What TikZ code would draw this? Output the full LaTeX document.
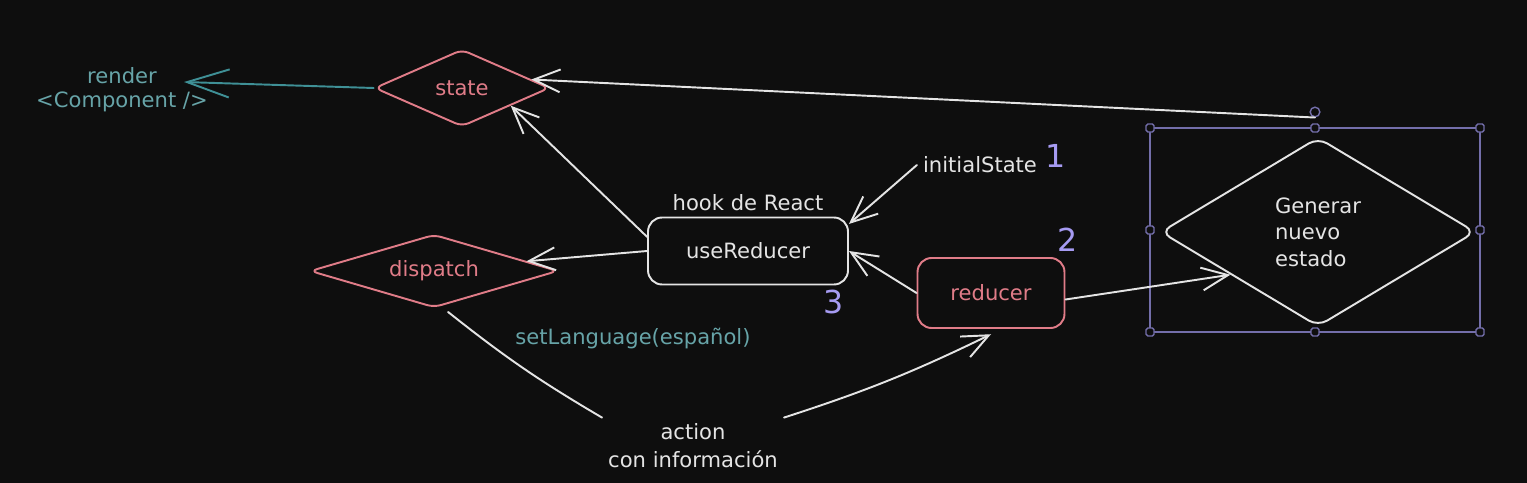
\documentclass[tikz,border=0pt]{standalone}
\usepackage{fontspec}
\setmainfont{DejaVu Sans}
\usetikzlibrary{shapes.geometric}
\usetikzlibrary{arrows.meta}
\usetikzlibrary{positioning}
\definecolor{mybg}{HTML}{0E0E0E}
\definecolor{mywhite}{HTML}{E4E4E4}
\definecolor{mypink}{HTML}{E07C88}
\definecolor{myteal}{HTML}{67A4A8}
\definecolor{mydarkteal}{HTML}{3F9096}
\definecolor{mypurple}{HTML}{A69BF2}
\definecolor{mysel}{HTML}{736EAA}
\tikzset{
  sk/.style={line width=1.1pt, line cap=round, line join=round},
  barb/.style={sk, -{Straight Barb[length=15pt,width=13pt]}},
  pinkdiamond/.style={sk, draw=mypink, text=mypink, diamond, inner sep=2pt, rounded corners=4pt},
  numlabel/.style={text=mypurple, font=\fontsize{18}{20}\selectfont}
}

\begin{document}
\begin{tikzpicture}[x=0.02cm, y=-0.02cm, font=\fontsize{12}{15}\selectfont]

    \fill[mybg] (0,0) rectangle (1527,483);
    \useasboundingbox (0,0) rectangle (1527,483);

    % diamonds on the left
    \node[pinkdiamond, aspect=2.27, minimum width=3.5cm, minimum height=1.54cm] (state) at (462,88) {state};
    \node[pinkdiamond, aspect=3.4, minimum width=4.96cm, minimum height=1.46cm] (disp) at (434,271) {dispatch};
    \node[text=myteal, align=center, font=\fontsize{12}{13.5}\selectfont] (render) at (122,90) {render\\<Component />};
    \coordinate (rtip) at (184,82);

    % hook and reducer
    \node[sk, draw=mywhite, text=mywhite, rounded corners=8pt, minimum width=4cm, minimum height=1.34cm] (ur) at (748,251) {useReducer};
    \node[text=mywhite, above=0pt of ur] (hook) {hook de React};
    \node[sk, draw=mypink, text=mypink, rounded corners=8pt, minimum width=2.94cm, minimum height=1.4cm] (red) at (991,293) {reducer};
    \node[text=mywhite] (init) at (980,165) {initialState};
    \node[numlabel] (n1) at (1056,156) {1};
    \node[numlabel] (n2) at (1068,240) {2};
    \node[numlabel] (n3) at (834,302) {3};

    % selected diamond
    \draw[line width=0.8pt, mysel] (1150,128) rectangle (1480,332);
    \node[sk, draw=mywhite, text=mywhite, diamond, aspect=1.67, rounded corners=6pt, align=left, minimum width=6.3cm, minimum height=3.78cm] (gen) at (1318,232) {Generar\\ nuevo\\ estado};
    \foreach \p in {(1150,128),(1315,128),(1480,128),(1150,230),(1480,230),(1150,332),(1315,332),(1480,332)}
        \draw[line width=0.8pt, mysel, fill=mybg, rounded corners=1pt] \p ++(-4,-4) rectangle ++(8,8);
    \node[circle, draw=mysel, line width=0.8pt, fill=mybg, inner sep=0pt, minimum size=5.5pt] (rot) at (1315,112) {};

    % action
    \node[text=mywhite, align=center, font=\fontsize{12}{16}\selectfont] (act) at (693,446) {action\\con información};
    \node[text=myteal] (setl) at (633,338) {setLanguage(español)};

    % connectors
    \draw[barb, mydarkteal, -{Straight Barb[length=24pt,width=16pt]}] (state.west) -- (rtip);
    \draw[barb, mywhite] (rot.south) -- (state.7);
    \draw[barb, mywhite] (ur.172) -- (state.-20);
    \draw[barb, mywhite] (ur.west) -- (disp.6);
    \draw[barb, mywhite] (init.west) -- (ur.15);
    \draw[barb, mywhite] (red.west) -- (ur.east);
    \draw[barb, mywhite] (red.-5) -- (gen.206);
    \draw[sk, mywhite] ([xshift=8pt,yshift=-2pt]disp.south) to[bend right=4] (act.north west);
    \draw[barb, mywhite] (act.north east) to[bend right=4] ([yshift=-3pt]red.south);

\end{tikzpicture}
\end{document}
